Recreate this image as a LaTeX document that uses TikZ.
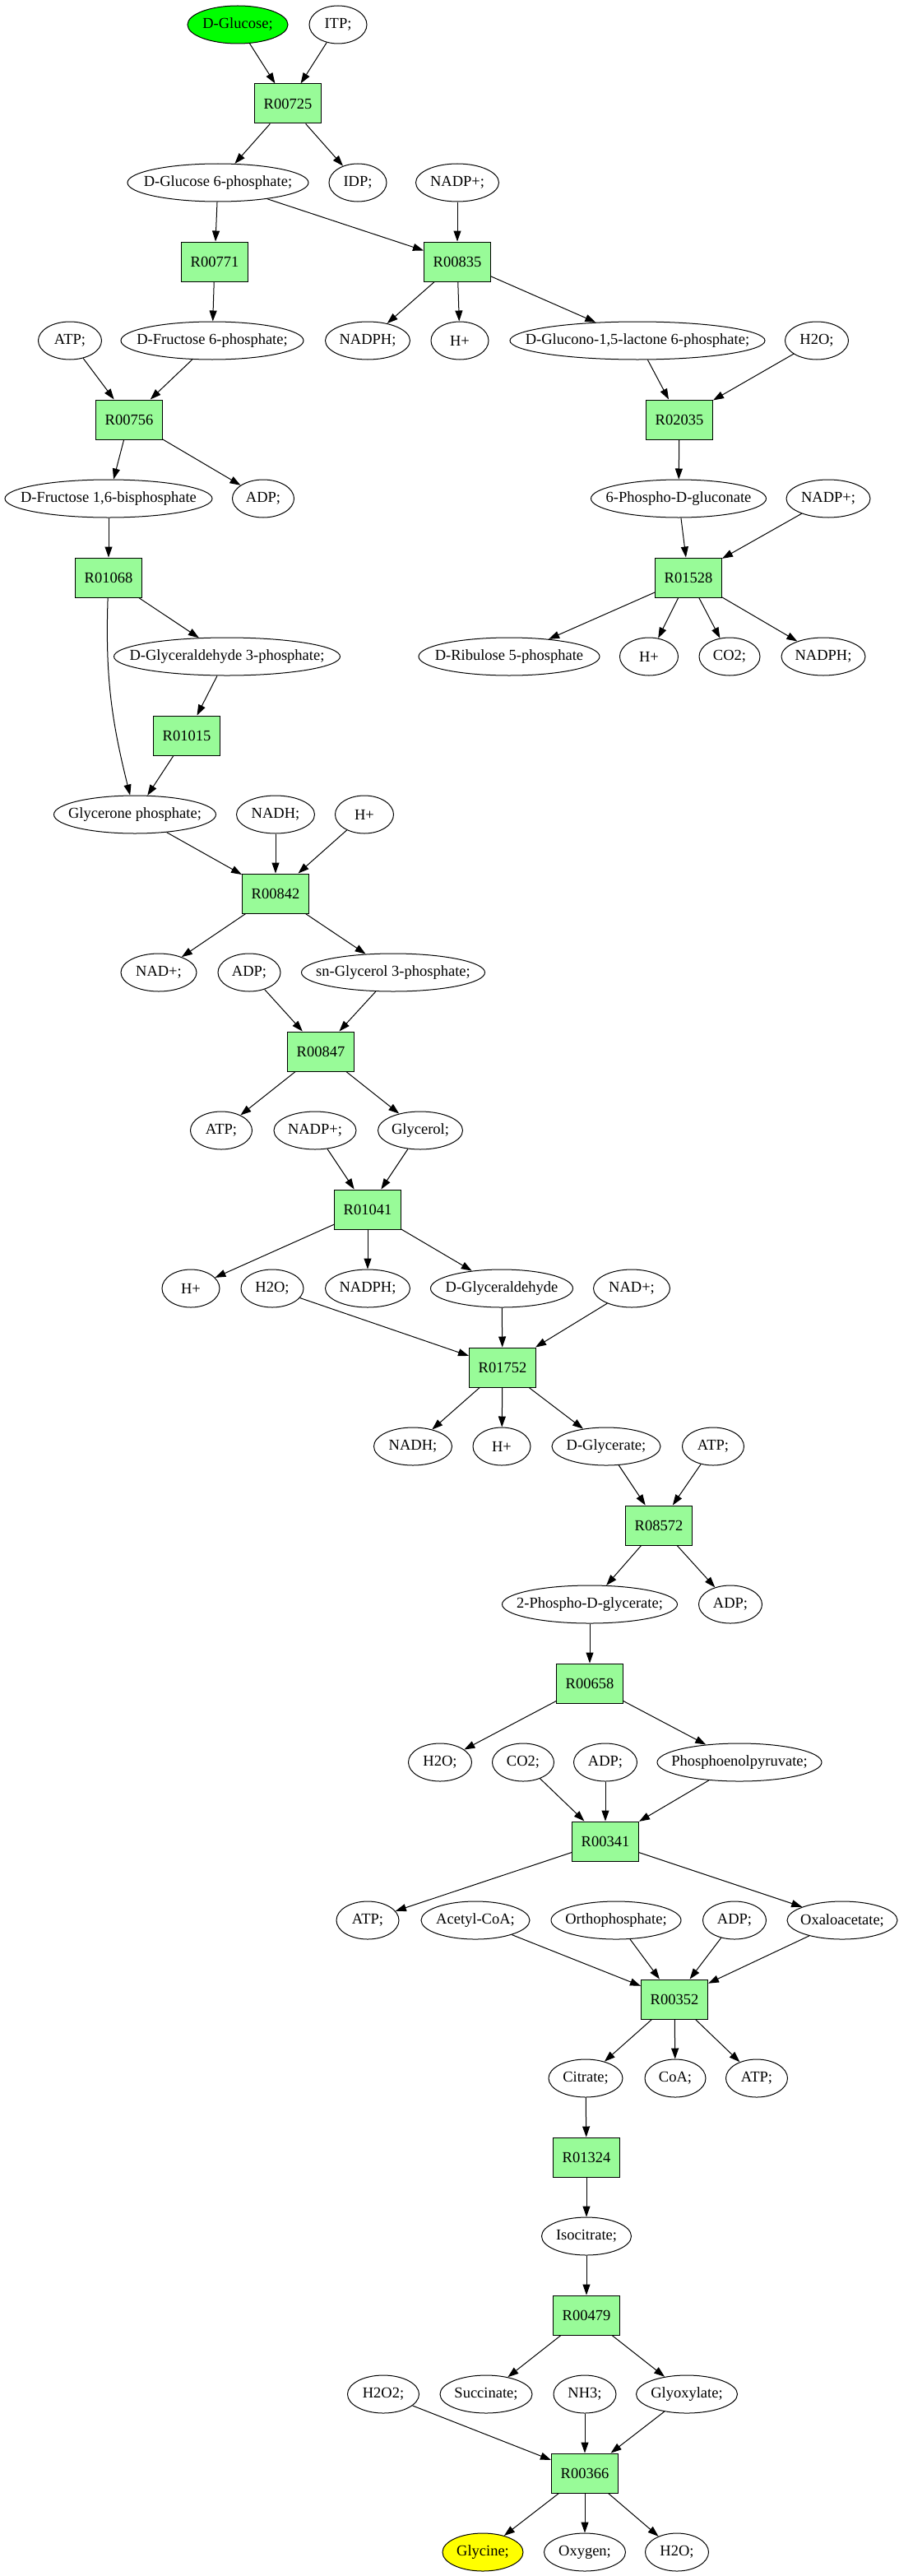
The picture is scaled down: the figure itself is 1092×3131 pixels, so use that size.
\documentclass[tikz,border=0pt]{standalone}
\usepackage{fontspec}
\setmainfont{Liberation Serif}
\usetikzlibrary{arrows.meta,shapes.geometric}
\definecolor{boxgreen}{RGB}{152,251,152}
\definecolor{startgreen}{RGB}{0,255,0}
\definecolor{endyellow}{RGB}{255,255,0}
\newcommand{\lbl}[1]{\makebox[0pt]{#1}}
\begin{document}
\begin{tikzpicture}[x=1pt,y=1pt,
  met/.style={draw, ellipse, line width=1pt, minimum height=46pt, inner sep=0pt, font=\fontsize{18.5}{22}\selectfont},
  rxn/.style={draw, rectangle, line width=1pt, fill=boxgreen, minimum width=81pt, minimum height=48pt, inner sep=0pt, font=\fontsize{18.5}{22}\selectfont},
  arr/.style={-{Triangle[length=13pt,width=9pt]}, line width=1pt}]
\useasboundingbox (0,0) rectangle (1092,-3131);
% rank 0
\node[met, fill=startgreen, minimum width=122pt] (glc) at (289,-30) {\lbl{D-Glucose;}};
\node[met, minimum width=70pt] (itp) at (411,-30) {\lbl{ITP;}};
\node[rxn] (R00725) at (350,-126) {R00725};
\node[met, minimum width=220pt] (g6p) at (265,-222) {\lbl{D-Glucose 6-phosphate;}};
\node[met, minimum width=70pt] (idp) at (435,-222) {\lbl{IDP;}};
\node[met, minimum width=101pt] (nadpa) at (556,-222) {\lbl{NADP+;}};
\node[rxn] (R00771) at (261,-318) {R00771};
\node[rxn] (R00835) at (556,-318) {R00835};
\node[met, minimum width=77pt] (atpa) at (85,-414) {\lbl{ATP;}};
\node[met, minimum width=222pt] (f6p) at (258,-414) {\lbl{D-Fructose 6-phosphate;}};
\node[met, minimum width=103pt] (nadpha) at (447,-414) {\lbl{NADPH;}};
\node[met, minimum width=70pt] (hpa) at (559,-414) {\lbl{H+}};
\node[met, minimum width=310pt] (glac) at (775,-414) {\lbl{D-Glucono-1,5-lactone 6-phosphate;}};
\node[met, minimum width=77pt] (h2oa) at (993,-414) {\lbl{H2O;}};
\node[rxn] (R00756) at (157,-510) {R00756};
\node[rxn] (R02035) at (826,-510) {R02035};
\node[met, minimum width=252pt] (fbp) at (132,-606) {\lbl{D-Fructose 1,6-bisphosphate}};
\node[met, minimum width=75pt] (adpa) at (320,-606) {\lbl{ADP;}};
\node[met, minimum width=213pt] (pgn) at (825,-606) {\lbl{6-Phospho-D-gluconate}};
\node[met, minimum width=102pt] (nadpb) at (1007,-606) {\lbl{NADP+;}};
\node[rxn] (R01068) at (132,-702) {R01068};
\node[rxn] (R01528) at (837,-702) {R01528};
\node[met, minimum width=275pt] (gap) at (276,-798) {\lbl{D-Glyceraldehyde 3-phosphate;}};
\node[met, minimum width=220pt] (ru5p) at (619,-798) {\lbl{D-Ribulose 5-phosphate}};
\node[met, minimum width=71pt] (hpb) at (789,-798) {\lbl{H+}};
\node[met, minimum width=74pt] (co2a) at (887,-798) {\lbl{CO2;}};
\node[met, minimum width=102pt] (nadphb) at (1001,-798) {\lbl{NADPH;}};
\node[rxn] (R01015) at (227,-894) {R01015};
\node[met, minimum width=197pt] (dhap) at (164,-990) {\lbl{Glycerone phosphate;}};
\node[met, minimum width=95pt] (nadha) at (335,-990) {\lbl{NADH;}};
\node[met, minimum width=71pt] (hpc) at (443,-990) {\lbl{H+}};
\node[rxn] (R00842) at (335,-1086) {R00842};
\node[met, minimum width=92pt] (nada) at (193,-1182) {\lbl{NAD+;}};
\node[met, minimum width=76pt] (adpb) at (303,-1182) {\lbl{ADP;}};
\node[met, minimum width=223pt] (g3p) at (478,-1182) {\lbl{sn-Glycerol 3-phosphate;}};
\node[rxn] (R00847) at (390,-1278) {R00847};
\node[met, minimum width=75pt] (atpb) at (269,-1374) {\lbl{ATP;}};
\node[met, minimum width=100pt] (nadpc) at (383,-1374) {\lbl{NADP+;}};
\node[met, minimum width=103pt] (glyc) at (511,-1374) {\lbl{Glycerol;}};
\node[rxn] (R01041) at (447,-1470) {R01041};
\node[met, minimum width=70pt] (hpd) at (232,-1566) {\lbl{H+}};
\node[met, minimum width=76pt] (h2ob) at (331,-1566) {\lbl{H2O;}};
\node[met, minimum width=103pt] (nadphc) at (447,-1566) {\lbl{NADPH;}};
\node[met, minimum width=173pt] (glyald) at (610,-1566) {\lbl{D-Glyceraldehyde}};
\node[met, minimum width=93pt] (nadb) at (768,-1566) {\lbl{NAD+;}};
\node[rxn] (R01752) at (611,-1662) {R01752};
\node[met, minimum width=95pt] (nadhb) at (502,-1758) {\lbl{NADH;}};
\node[met, minimum width=70pt] (hpe) at (610,-1758) {\lbl{H+}};
\node[met, minimum width=132pt] (glyt) at (737,-1758) {\lbl{D-Glycerate;}};
\node[met, minimum width=75pt] (atpc) at (867,-1758) {\lbl{ATP;}};
\node[rxn] (R08572) at (801,-1854) {R08572};
\node[met, minimum width=213pt] (pg2) at (717,-1950) {\lbl{2-Phospho-D-glycerate;}};
\node[met, minimum width=77pt] (adpc) at (888,-1950) {\lbl{ADP;}};
\node[rxn] (R00658) at (717,-2046) {R00658};
\node[met, minimum width=77pt] (h2oc) at (535,-2142) {\lbl{H2O;}};
\node[met, minimum width=75pt] (co2b) at (636,-2142) {\lbl{CO2;}};
\node[met, minimum width=77pt] (adpd) at (736,-2142) {\lbl{ADP;}};
\node[met, minimum width=200pt] (pep) at (899,-2142) {\lbl{Phosphoenolpyruvate;}};
\node[rxn] (R00341) at (736,-2238) {R00341};
\node[met, minimum width=76pt] (atpd) at (447,-2334) {\lbl{ATP;}};
\node[met, minimum width=132pt] (accoa) at (578,-2334) {\lbl{Acetyl-CoA;}};
\node[met, minimum width=158pt] (pi) at (749,-2334) {\lbl{Orthophosphate;}};
\node[met, minimum width=77pt] (adpe) at (893,-2334) {\lbl{ADP;}};
\node[met, minimum width=134pt] (oaa) at (1024,-2334) {\lbl{Oxaloacetate;}};
\node[rxn] (R00352) at (820,-2430) {R00352};
\node[met, minimum width=90pt] (cit) at (712,-2526) {\lbl{Citrate;}};
\node[met, minimum width=74pt] (coa) at (821,-2526) {\lbl{CoA;}};
\node[met, minimum width=75pt] (atpe) at (920,-2526) {\lbl{ATP;}};
\node[rxn] (R01324) at (713,-2622) {R01324};
\node[met, minimum width=109pt] (icit) at (713,-2718) {\lbl{Isocitrate;}};
\node[rxn] (R00479) at (713,-2814) {R00479};
\node[met, minimum width=87pt] (hhoo) at (466,-2910) {\lbl{H2O2;}};
\node[met, minimum width=112pt] (succ) at (591,-2910) {\lbl{Succinate;}};
\node[met, minimum width=76pt] (nh3) at (711,-2910) {\lbl{NH3;}};
\node[met, minimum width=123pt] (glx) at (835,-2910) {\lbl{Glyoxylate;}};
\node[rxn] (R00366) at (711,-3006) {R00366};
\node[met, fill=endyellow, minimum width=98pt] (gly) at (587,-3102) {\lbl{Glycine;}};
\node[met, minimum width=99pt] (oxy) at (711,-3102) {\lbl{Oxygen;}};
\node[met, minimum width=77pt] (h2od) at (823,-3102) {\lbl{H2O;}};
% edges
\draw[arr] (glc) -- (R00725);
\draw[arr] (itp) -- (R00725);
\draw[arr] (R00725) -- (g6p);
\draw[arr] (R00725) -- (idp);
\draw[arr] (g6p) -- (R00771);
\draw[arr] (g6p) -- (R00835);
\draw[arr] (nadpa) -- (R00835);
\draw[arr] (R00771) -- (f6p);
\draw[arr] (R00835) -- (nadpha);
\draw[arr] (R00835) -- (hpa);
\draw[arr] (R00835) -- (glac);
\draw[arr] (atpa) -- (R00756);
\draw[arr] (f6p) -- (R00756);
\draw[arr] (glac) -- (R02035);
\draw[arr] (h2oa) -- (R02035);
\draw[arr] (R00756) -- (fbp);
\draw[arr] (R00756) -- (adpa);
\draw[arr] (R02035) -- (pgn);
\draw[arr] (fbp) -- (R01068);
\draw[arr] (pgn) -- (R01528);
\draw[arr] (nadpb) -- (R01528);
\draw[arr] (R01068) -- (gap);
\draw[arr] (R01068) to[out=-92,in=104] (dhap);
\draw[arr] (R01528) -- (ru5p);
\draw[arr] (R01528) -- (hpb);
\draw[arr] (R01528) -- (co2a);
\draw[arr] (R01528) -- (nadphb);
\draw[arr] (gap) -- (R01015);
\draw[arr] (R01015) -- (dhap);
\draw[arr] (dhap) -- (R00842);
\draw[arr] (nadha) -- (R00842);
\draw[arr] (hpc) -- (R00842);
\draw[arr] (R00842) -- (nada);
\draw[arr] (R00842) -- (g3p);
\draw[arr] (adpb) -- (R00847);
\draw[arr] (g3p) -- (R00847);
\draw[arr] (R00847) -- (atpb);
\draw[arr] (R00847) -- (glyc);
\draw[arr] (nadpc) -- (R01041);
\draw[arr] (glyc) -- (R01041);
\draw[arr] (R01041) -- (hpd);
\draw[arr] (R01041) -- (nadphc);
\draw[arr] (R01041) -- (glyald);
\draw[arr] (h2ob) -- (R01752);
\draw[arr] (glyald) -- (R01752);
\draw[arr] (nadb) -- (R01752);
\draw[arr] (R01752) -- (nadhb);
\draw[arr] (R01752) -- (hpe);
\draw[arr] (R01752) -- (glyt);
\draw[arr] (glyt) -- (R08572);
\draw[arr] (atpc) -- (R08572);
\draw[arr] (R08572) -- (pg2);
\draw[arr] (R08572) -- (adpc);
\draw[arr] (pg2) -- (R00658);
\draw[arr] (R00658) -- (h2oc);
\draw[arr] (R00658) -- (pep);
\draw[arr] (co2b) -- (R00341);
\draw[arr] (adpd) -- (R00341);
\draw[arr] (pep) -- (R00341);
\draw[arr] (R00341) -- (atpd);
\draw[arr] (R00341) -- (oaa);
\draw[arr] (accoa) -- (R00352);
\draw[arr] (pi) -- (R00352);
\draw[arr] (adpe) -- (R00352);
\draw[arr] (oaa) -- (R00352);
\draw[arr] (R00352) -- (cit);
\draw[arr] (R00352) -- (coa);
\draw[arr] (R00352) -- (atpe);
\draw[arr] (cit) -- (R01324);
\draw[arr] (R01324) -- (icit);
\draw[arr] (icit) -- (R00479);
\draw[arr] (R00479) -- (succ);
\draw[arr] (R00479) -- (glx);
\draw[arr] (hhoo) -- (R00366);
\draw[arr] (nh3) -- (R00366);
\draw[arr] (glx) -- (R00366);
\draw[arr] (R00366) -- (gly);
\draw[arr] (R00366) -- (oxy);
\draw[arr] (R00366) -- (h2od);
\end{tikzpicture}
\end{document}
